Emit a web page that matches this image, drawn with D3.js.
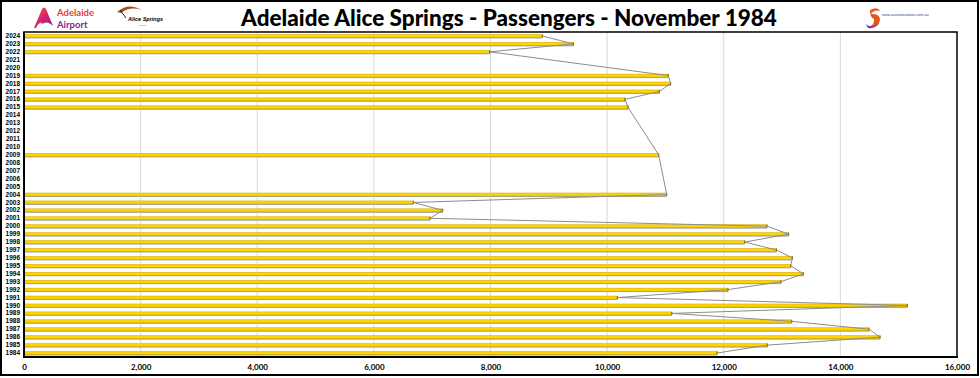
<!DOCTYPE html>
<html><head><meta charset="utf-8">
<script src="https://cdn.jsdelivr.net/npm/d3@7"></script>
<style>html,body{margin:0;padding:0;background:#fff;}svg{display:block;}</style>
</head><body>
<svg id="c" width="980" height="378"></svg>
<script>
const title = "Adelaide Alice Springs - Passengers - November 1984";
const years = ["1984","1985","1986","1987","1988","1989","1990","1991","1992","1993","1994","1995","1996","1997","1998","1999","2000","2001","2002","2003","2004","2005","2006","2007","2008","2009","2010","2011","2012","2013","2014","2015","2016","2017","2018","2019","2020","2021","2022","2023","2024"];
const passengers = [11885,12748,14680,14491,13166,11110,15148,10175,12073,12982,13365,13148,13177,12902,12360,13114,12742,6963,7180,6677,11022,null,null,null,null,10884,null,null,null,null,null,10358,10307,10895,11090,11050,null,null,7986,9420,8888];
const xTicks = [0,2000,4000,6000,8000,10000,12000,14000,16000];

const svg = d3.select("#c");
const W = 980, H = 378;
const L = 24, R = 957, T = 32, B = 357;

const data = years.map((y,i)=>({year:y, v:passengers[i]}));

const x = d3.scaleLinear().domain([0,16000]).range([L,R]);
const y = d3.scaleBand().domain(years.slice().reverse()).range([T,B]).padding(0);

// outer frame
svg.append("rect").attr("x",1).attr("y",1).attr("width",W-3).attr("height",H-4)
  .attr("fill","#fff").attr("stroke","#000").attr("stroke-width",2);

// gridlines
svg.append("g").selectAll("line").data(xTicks.slice(1,-1)).join("line")
  .attr("x1",d=>x(d)).attr("x2",d=>x(d)).attr("y1",T).attr("y2",B)
  .attr("stroke","#d9d9d9").attr("stroke-width",1);

// bars
const bh = 3;
const barsG = svg.append("g");
const valid = data.filter(d=>d.v!=null);
barsG.selectAll("rect.sh").data(valid).join("rect").attr("class","sh")
  .attr("x",L).attr("y",d=>y(d.year)+y.bandwidth()/2-bh/2+2)
  .attr("width",d=>x(d.v)-L).attr("height",2).attr("fill","#a6a6a6");
barsG.selectAll("rect.b").data(valid).join("rect").attr("class","b")
  .attr("x",L).attr("y",d=>y(d.year)+y.bandwidth()/2-bh/2)
  .attr("width",d=>x(d.v)-L).attr("height",bh).attr("fill","#ffd500")
  .attr("stroke","#c9a400").attr("stroke-width",0.5);
barsG.selectAll("line.e").data(valid).join("line").attr("class","e")
  .attr("x1",d=>x(d.v)).attr("x2",d=>x(d.v))
  .attr("y1",d=>y(d.year)+y.bandwidth()/2-bh/2).attr("y2",d=>y(d.year)+y.bandwidth()/2+bh/2)
  .attr("stroke","#6b5a00").attr("stroke-width",1);

// connecting line
const line = d3.line().x(d=>x(d.v)).y(d=>y(d.year)+y.bandwidth()/2);
svg.append("path").datum(valid).attr("d",line).attr("fill","none")
  .attr("stroke","#8c8c8c").attr("stroke-width",1);

// plot border
svg.append("rect").attr("x",L).attr("y",T).attr("width",R-L).attr("height",B-T)
  .attr("fill","none").attr("stroke","#000").attr("stroke-width",1.5);
svg.append("line").attr("x1",L).attr("x2",L).attr("y1",T).attr("y2",B+1).attr("stroke","#000").attr("stroke-width",2);
svg.append("line").attr("x1",L).attr("x2",R+1).attr("y1",B).attr("y2",B).attr("stroke","#000").attr("stroke-width",2);

// y axis labels
const yAxis = d3.axisLeft(y).tickSize(0).tickPadding(4);
const gy = svg.append("g").attr("transform",`translate(${L},0)`).call(yAxis);
gy.select(".domain").remove();
gy.selectAll("text").attr("font-family","Liberation Sans, Arial, sans-serif").attr("font-size",6.5).attr("font-weight","bold").attr("fill","#000");

// x axis labels
const xAxis = d3.axisBottom(x).tickValues(xTicks).tickSize(0).tickPadding(7).tickFormat(d3.format(","));
const gx = svg.append("g").attr("transform",`translate(0,${B})`).call(xAxis);
gx.select(".domain").remove();
gx.selectAll("text").attr("font-family","Lato, Liberation Sans, sans-serif").attr("font-size",8).attr("font-weight","bold").attr("fill","#000");

// title
svg.append("text").attr("x",509).attr("y",26).attr("text-anchor","middle")
  .attr("font-family","Lato, Liberation Sans, sans-serif").attr("font-weight","900").attr("font-size",22.5)
  .attr("fill","#000").text(title);

// Adelaide Airport logo
const defs = svg.append("defs");
const gr = defs.append("linearGradient").attr("id","ag").attr("x1","0").attr("x2","1").attr("y1","0").attr("y2","1");
gr.append("stop").attr("offset","0").attr("stop-color","#f26522");
gr.append("stop").attr("offset","0.5").attr("stop-color","#d6246e");
gr.append("stop").attr("offset","1").attr("stop-color","#7b1fa2");
svg.append("path").attr("d","M34,28 L42,9 Q44,6 46,9 L53,26 Q49,22 44,22 Q38,22 36,28 Z M41,24 Q44,18 48,22")
  .attr("fill","url(#ag)");
svg.append("text").attr("x",57).attr("y",16).attr("font-family","Lato, sans-serif").attr("font-weight","bold")
  .attr("font-size",9.5).attr("fill","#e8402f").text("Adelaide");
svg.append("text").attr("x",57).attr("y",28).attr("font-family","Lato, sans-serif").attr("font-weight","bold")
  .attr("font-size",9.5).attr("fill","#8e1c8e").text("Airport");

// Alice Springs logo
svg.append("path").attr("d","M117,12 Q128,2 142,10 Q130,6 121,13 Z").attr("fill","#a0521e");
svg.append("path").attr("d","M120,10 L126,18").attr("stroke","#222").attr("stroke-width",1);
svg.append("text").attr("x",128).attr("y",21).attr("font-family","Liberation Sans, sans-serif").attr("font-style","italic").attr("font-weight","bold")
  .attr("font-size",5.5).attr("fill","#000").text("Alice Springs");
svg.append("text").attr("x",142).attr("y",26).attr("font-family","Liberation Sans, sans-serif")
  .attr("font-size",2.5).attr("fill","#555").attr("text-anchor","middle").text("Airport");

// right logo
svg.append("path").attr("d","M870,10 Q878,6 880,11 Q874,9 871,14 Q880,13 880,20 Q878,28 869,27 Q875,24 874,19 Q870,18 870,10 Z")
  .attr("fill","#e8541e");
svg.append("path").attr("d","M866,24 Q872,30 880,22 Q876,29 868,28 Z").attr("fill","#7b2d8e");
svg.append("text").attr("x",882).attr("y",16).attr("font-family","Liberation Sans, sans-serif")
  .attr("font-size",3.8).attr("fill","#2b4a9b").text("www.aussieaviation.com.au");
</script>
</body></html>
